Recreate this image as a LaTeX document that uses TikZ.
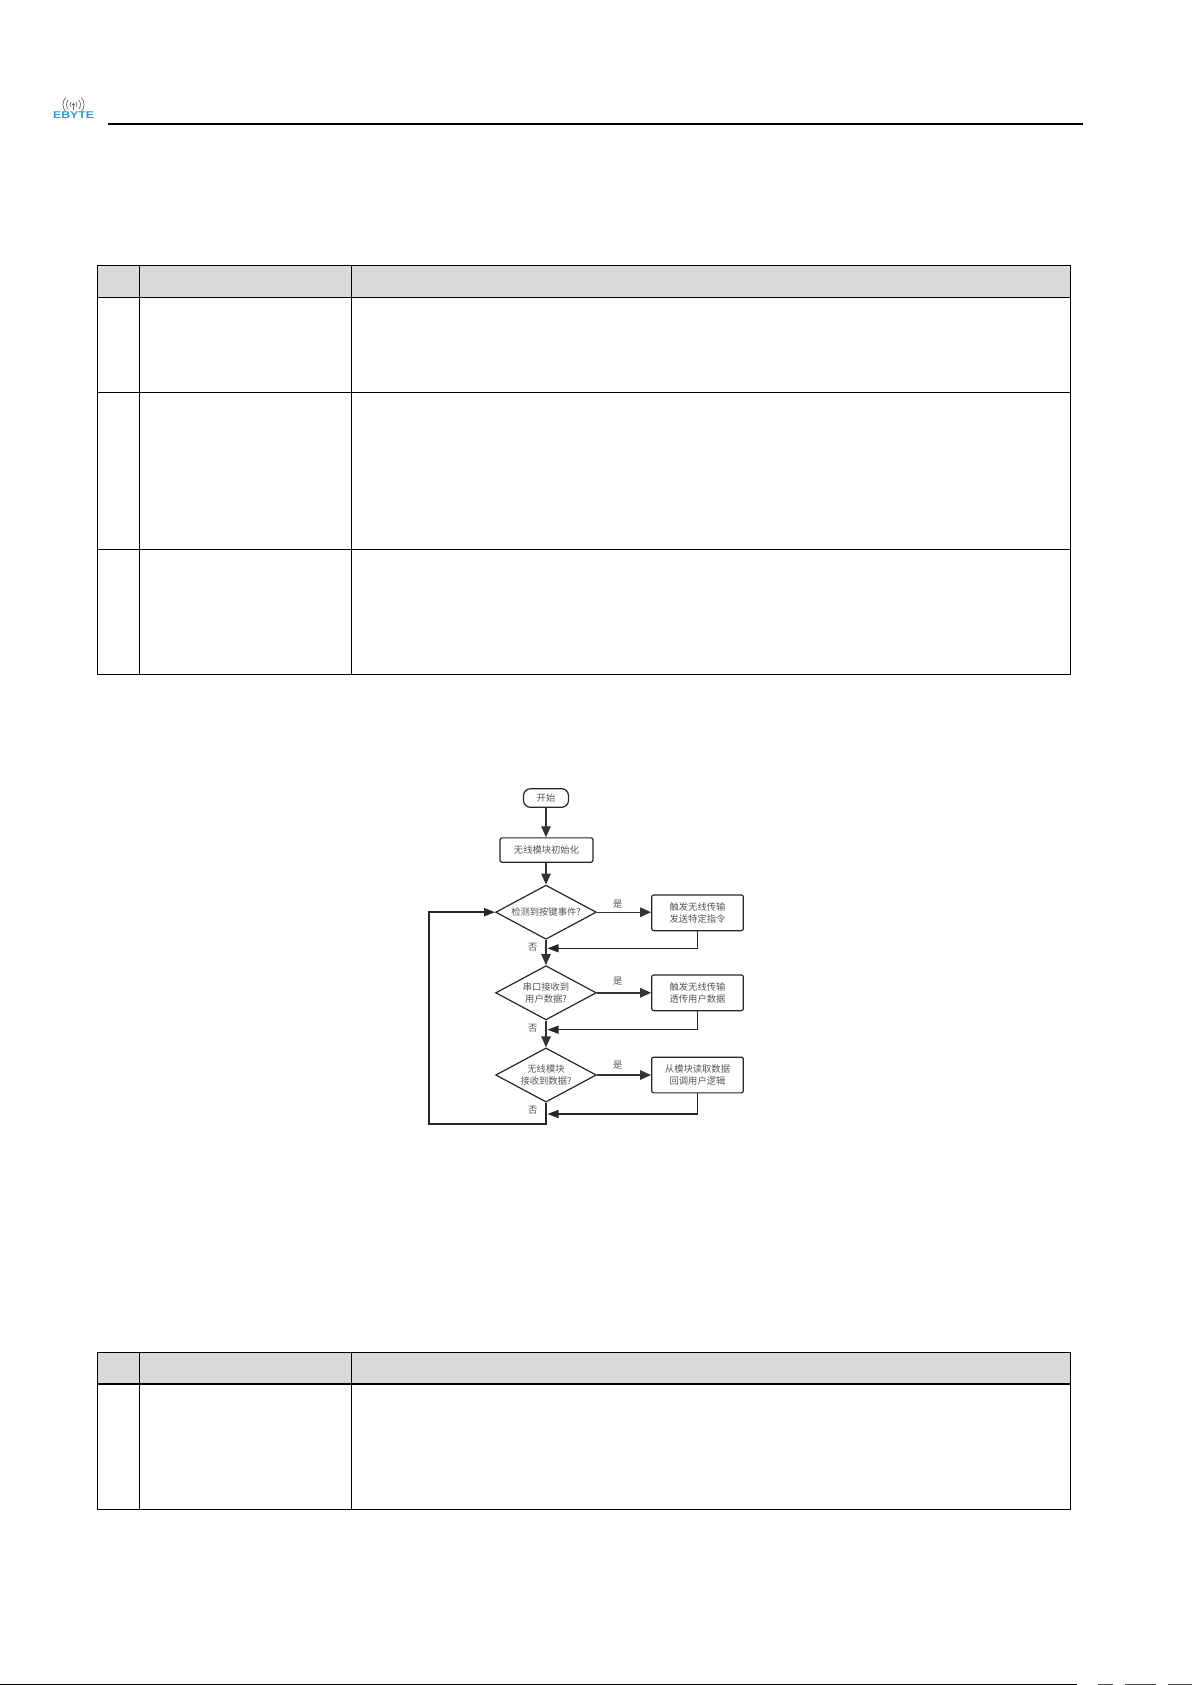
\documentclass[tikz,border=0pt]{standalone}
\usepackage{fontspec}
\setmainfont{Noto Sans CJK SC}
\newfontfamily\logofont{Liberation Sans}
\usetikzlibrary{arrows.meta,shapes.geometric}
\definecolor{hdr}{HTML}{D9D9D9}
\definecolor{ink}{HTML}{555555}
\definecolor{logoblue}{HTML}{2E9CCB}
\tikzset{
  tbl/.style={draw=black,line width=1.3pt},
  hdrcell/.style={fill=hdr,draw=none},
  flowtext/.style={text=ink,font=\fontsize{9.3pt}{11.6pt}\selectfont,align=center},
  procbox/.style={flowtext,draw=black!85,line width=1.2pt,rounded corners=2pt,inner sep=0pt},
  startbox/.style={procbox,rounded corners=7pt,minimum width=45pt,minimum height=18.6pt},
  decide/.style={flowtext,diamond,draw=black!85,line width=1.2pt,inner sep=0pt,
    minimum width=100.7pt,minimum height=54.2pt,shape aspect=1.86},
  sidebox/.style={procbox,minimum width=91.6pt,minimum height=35.7pt},
  flow/.style={draw=black!80,line width=1.4pt,-{Triangle[length=11pt,width=9.5pt]}},
  thinflow/.style={draw=black!85,line width=1.1pt,-{Triangle[length=11pt,width=8pt]}},
  backflow/.style={draw=black!85,line width=1.6pt,-{Triangle[length=11pt,width=8pt]}},
  ruleline/.style={draw=black,line width=2pt},
  lab/.style={text=ink,font=\fontsize{9.3pt}{11pt}\selectfont,inner sep=0pt}
}
\begin{document}
\begin{tikzpicture}[x=1pt,y=-1pt]
\useasboundingbox (0,0) rectangle (1192,1685);
% page furniture
\coordinate (hl) at (108,124);
\coordinate (hr) at (1083,124);
\draw[ruleline] (hl) -- (hr);
\foreach \r in {3.5,7,10.5}{
  \draw[black!60,line width=.7pt] ([shift={(73.5,104.5)}]-42:\r) arc[start angle=-42,end angle=42,radius=\r];
  \draw[black!60,line width=.7pt] ([shift={(73.5,104.5)}]138:\r) arc[start angle=138,end angle=222,radius=\r];
}
\fill[black!70] (73.5,104.5) circle (1.3pt);
\draw[black!60,line width=.8pt] (73.5,104.5) -- (73.5,110.5);
\node[inner sep=0pt,text=logoblue] (logo) at (73.5,115.4)
  {\logofont\bfseries\fontsize{9.8pt}{10pt}\selectfont\scalebox{1.25}[1]{EBYTE}};
% bottom line
\coordinate (bl) at (0,1684.3);
\coordinate (br) at (1077,1684.3);
\draw[black,line width=1.4pt] (bl) -- (br);
\draw[black!70,line width=1.4pt] (1098,1684.3) -- (1113,1684.3) (1125,1684.3) -- (1156,1684.3) (1168,1684.3) -- (1192,1684.3);
% table 1
\fill[hdrcell] (97.5,265.3) rectangle (1070.3,297.3);
\draw[tbl] (97.5,265.3) rectangle (1070.3,674.3);
\draw[tbl] (97.5,297.3) -- (1070.3,297.3);
\draw[tbl] (97.5,392.3) -- (1070.3,392.3);
\draw[tbl] (97.5,549.3) -- (1070.3,549.3);
\draw[tbl] (139.3,265.3) -- (139.3,674.3);
\draw[tbl] (351.7,265.3) -- (351.7,674.3);
% table 2
\fill[hdrcell] (97.5,1352.3) rectangle (1070.3,1384);
\draw[tbl] (97.5,1352.3) rectangle (1070.3,1509.3);
\draw[tbl] (97.5,1384) -- (1070.3,1384);
\draw[tbl] (139.3,1352.3) -- (139.3,1509.3);
\draw[tbl] (351.7,1352.3) -- (351.7,1509.3);
% flowchart nodes
\node[startbox] (start) at (546,798) {开始};
\node[procbox,minimum width=93pt,minimum height=24.3pt] (init) at (546.5,850) {无线模块初始化};
\node[decide] (d1) at (546,912.2) {检测到按键事件?};
\node[decide] (d2) at (546,992.8) {串口接收到\\用户数据?};
\node[decide] (d3) at (546,1075) {无线模块\\接收到数据?};
\node[sidebox] (b1) at (697.5,912.8) {触发无线传输\\发送特定指令};
\node[sidebox] (b2) at (697.5,992.8) {触发无线传输\\透传用户数据};
\node[sidebox] (b3) at (697.5,1075) {从模块读取数据\\回调用户逻辑};
\coordinate (j1) at (547.5,948.3);
\coordinate (j2) at (547.5,1029.7);
\coordinate (j3) at (547.5,1114);
\coordinate (c3) at (546,1123.7);
\coordinate (c4) at (429,1123.7);
% connectors
\draw[flow] (start.south) -- (init.north -| start.south);
\draw[flow] (init.south -| d1.north) -- (d1.north);
\draw[flow] (d1.east) -- (b1.west |- d1.east);
\draw[flow] (d2.east) -- (b2.west);
\draw[flow] (d3.east) -- (b3.west);
\draw[flow] (d1.south) -- (d2.north);
\draw[flow] (d2.south) -- (d3.north);
\draw[thinflow] (b1.south) |- (j1);
\draw[thinflow] (b2.south) |- (j2);
\draw[thinflow] (b3.south) |- (j3);
\draw[backflow] (d3.south) -- (c3) -- (c4) |- (d1.west);
% labels
\node[lab] (y1) at (617.7,904.3) {是};
\node[lab] (y2) at (617.7,980.7) {是};
\node[lab] (y3) at (617.7,1064.7) {是};
\node[lab] (n1) at (532.7,947.3) {否};
\node[lab] (n2) at (532.7,1028.7) {否};
\node[lab] (n3) at (532.7,1110.7) {否};
\end{tikzpicture}
\end{document}
